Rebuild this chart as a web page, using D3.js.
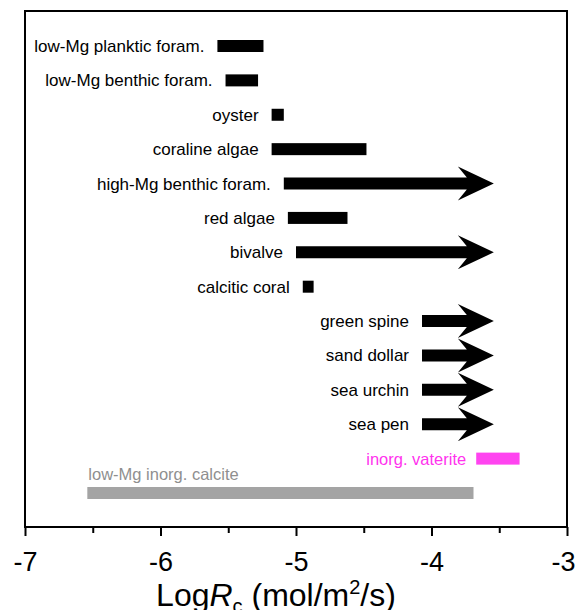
<!DOCTYPE html>
<html>
<head>
<meta charset="utf-8">
<script src="https://cdn.jsdelivr.net/npm/d3@7"></script>
<style>
  body { margin: 0; background: #fff; }
  text { font-family: "Liberation Sans", Arial, Helvetica, sans-serif; }
</style>
</head>
<body>
<div id="chart"></div>
<script>
const margin = { top: 11, right: 8, bottom: 83, left: 25 },
  width = 575 - margin.left - margin.right,
  height = 610 - margin.top - margin.bottom;

// rows top to bottom
const categories = [
  "low-Mg planktic foram.", "low-Mg benthic foram.", "oyster", "coraline algae",
  "high-Mg benthic foram.", "red algae", "bivalve", "calcitic coral",
  "green spine", "sand dollar", "sea urchin", "sea pen",
  "inorg. vaterite", "low-Mg inorg. calcite"
];
// log Rc range start / end (arrows end at the tip)
const rateStart = [-5.58, -5.52, -5.18, -5.18, -5.09, -5.06, -5.0, -4.95, -4.07, -4.07, -4.07, -4.07, -3.67, -6.54];
const rateEnd   = [-5.24, -5.28, -5.09, -4.48, -3.54, -4.62, -3.54, -4.87, -3.54, -3.54, -3.54, -3.54, -3.35, -3.69];
const isArrow   = [false, false, false, false, true, false, true, false, true, true, true, true, false, false];
const kind      = ["bio", "bio", "bio", "bio", "bio", "bio", "bio", "bio", "bio", "bio", "bio", "bio", "vaterite", "calcite"];
const xTicks = [-7, -6, -5, -4, -3];
const xMinorTicks = [-6.5, -5.5, -4.5, -3.5];

const data = categories.map((c, i) => ({
  name: c, x0: rateStart[i], x1: rateEnd[i], arrow: isArrow[i], kind: kind[i]
}));

const fill = { bio: "#000", vaterite: "#ff44f0", calcite: "#a4a4a4" };
const textFill = { bio: "#000", vaterite: "#ff33ee", calcite: "#8f8f8f" };

const svg = d3.select("#chart")
  .append("svg")
  .attr("width", width + margin.left + margin.right)
  .attr("height", height + margin.top + margin.bottom)
  .append("g")
  .attr("transform", `translate(${margin.left},${margin.top})`);

const x = d3.scaleLinear().domain([-7, -3]).range([0, width]);
const y = d3.scalePoint().domain(categories).range([35, 482]);

const barH = 12;

function arrowPath(d) {
  const xa = x(d.x0), xt = x(d.x1), cy = y(d.name), h = barH / 2;
  const notch = xt - 27, barb = xt - 36;
  return `M${xa},${cy - h}L${notch},${cy - h}L${barb},${cy - 17}L${xt},${cy}` +
    `L${barb},${cy + 17}L${notch},${cy + h}L${xa},${cy + h}Z`;
}

svg.selectAll(".bar")
  .data(data.filter(d => !d.arrow))
  .join("rect")
  .attr("x", d => x(d.x0))
  .attr("y", d => y(d.name) - barH / 2)
  .attr("width", d => x(d.x1) - x(d.x0))
  .attr("height", barH)
  .attr("fill", d => fill[d.kind]);

svg.selectAll(".arrow")
  .data(data.filter(d => d.arrow))
  .join("path")
  .attr("d", arrowPath)
  .attr("fill", "#000");

svg.selectAll(".label")
  .data(data)
  .join("text")
  .attr("x", d => d.kind === "calcite" ? x(d.x0) + 1 : x(d.x0) - (d.kind === "vaterite" ? 10 : 13))
  .attr("y", d => d.kind === "calcite" ? y(d.name) - 13 : y(d.name) + 6)
  .attr("text-anchor", d => d.kind === "calcite" ? "start" : "end")
  .attr("font-size", d => d.kind === "bio" ? 17 : 16.5)
  .attr("fill", d => textFill[d.kind])
  .text(d => d.name);

// frame
svg.append("rect")
  .attr("width", width)
  .attr("height", height)
  .attr("fill", "none")
  .attr("stroke", "#000")
  .attr("stroke-width", 2);

const xAxis = svg.append("g")
  .attr("transform", `translate(0,${height})`)
  .call(d3.axisBottom(x).tickValues(xTicks).tickSize(9).tickPadding(16).tickFormat(d3.format("d")));
xAxis.select(".domain").remove();
xAxis.selectAll("line").attr("stroke-width", 2);
xAxis.selectAll("text")
  .attr("font-size", 27)
  .attr("font-family", "Liberation Sans, Arial, sans-serif")
  .attr("dx", d => d === -3 ? -4 : 0)
  .text(d => "-" + Math.abs(d));

const xMinor = svg.append("g")
  .attr("transform", `translate(0,${height})`)
  .call(d3.axisBottom(x).tickValues(xMinorTicks).tickSize(6).tickFormat(""));
xMinor.select(".domain").remove();
xMinor.selectAll("line").attr("stroke-width", 2);

const title = svg.append("text")
  .attr("x", x(-5) - 20)
  .attr("y", height + 79)
  .attr("text-anchor", "middle")
  .attr("font-size", 32);
title.append("tspan").text("Log");
title.append("tspan").attr("font-style", "italic").text("R");
title.append("tspan").attr("font-size", 20).attr("dy", 7).text("c");
title.append("tspan").attr("dy", -7).text(" (mol/m");
title.append("tspan").attr("font-size", 20).attr("dy", -12).text("2");
title.append("tspan").attr("dy", 12).text("/s)");
</script>
</body>
</html>
